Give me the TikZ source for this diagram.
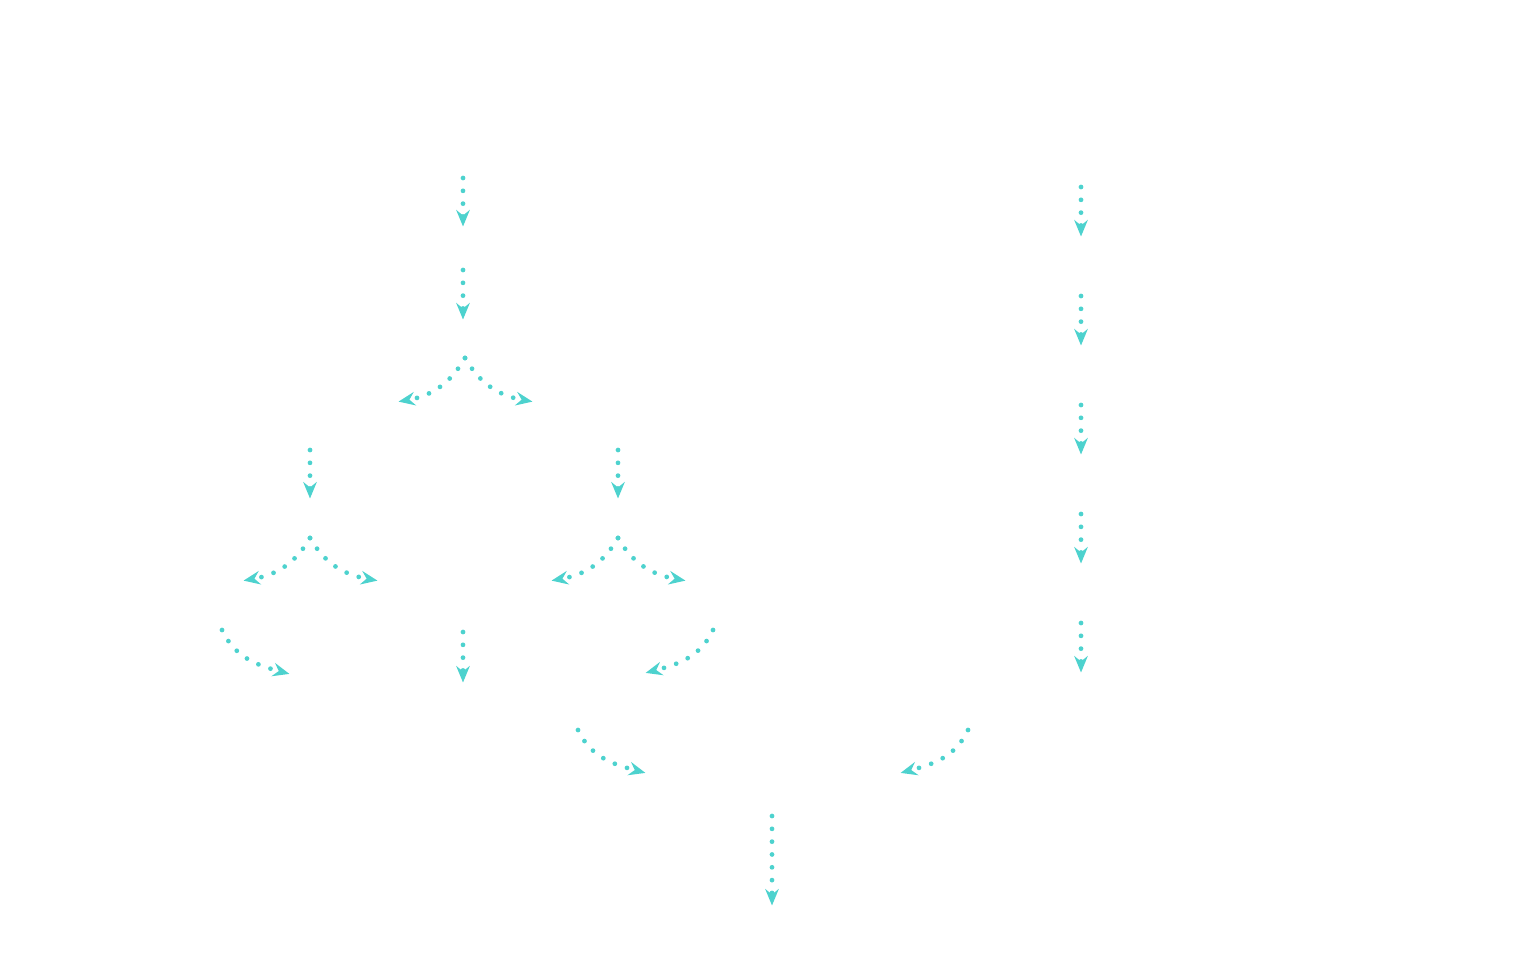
\documentclass[tikz,border=0pt]{standalone}
\usetikzlibrary{arrows.meta}
\definecolor{flowcyan}{HTML}{4DD2CE}
\begin{document}
\begin{tikzpicture}[x=0.02cm,y=0.02cm,>={Stealth[length=0.33cm,width=0.27cm,inset=0.11cm]},
	flow/.style={->,flowcyan,line width=2.7pt,line cap=round,dash pattern=on 0pt off 7.3pt,shorten >=-2pt}]
	\useasboundingbox (0,0) rectangle (1534,975);
	% left tree
	\coordinate (a1s) at (463,797); \coordinate (a1e) at (463,752);
	\coordinate (a2s) at (463,705); \coordinate (a2e) at (463,659);
	\coordinate (f1) at (465,617); \coordinate (f1l) at (402,574); \coordinate (f1r) at (529,574);
	\coordinate (b1s) at (310,525); \coordinate (b1e) at (310,480);
	\coordinate (b2s) at (618,525); \coordinate (b2e) at (618,480);
	\coordinate (f2) at (310,437); \coordinate (f2l) at (247,395); \coordinate (f2r) at (374,395);
	\coordinate (f3) at (618,437); \coordinate (f3l) at (555,395); \coordinate (f3r) at (682,395);
	\coordinate (c1s) at (222,345); \coordinate (c1e) at (286,302);
	\coordinate (c2s) at (463,343); \coordinate (c2e) at (463,296);
	\coordinate (c3s) at (713,345); \coordinate (c3e) at (649,303);
	\coordinate (d1s) at (578,245); \coordinate (d1e) at (642,203);
	\coordinate (d2s) at (968,245); \coordinate (d2e) at (904,203);
	\coordinate (e1s) at (772,159); \coordinate (e1e) at (772,73);
	\draw[flow] (a1s)--(a1e);
	\draw[flow] (a2s)--(a2e);
	\draw[flow] (f1) to[out=-120,in=10] (f1l);
	\draw[flow] (f1) to[out=-60,in=170] (f1r);
	\draw[flow] (b1s)--(b1e);
	\draw[flow] (b2s)--(b2e);
	\draw[flow] (f2) to[out=-120,in=10] (f2l);
	\draw[flow] (f2) to[out=-60,in=170] (f2r);
	\draw[flow] (f3) to[out=-120,in=10] (f3l);
	\draw[flow] (f3) to[out=-60,in=170] (f3r);
	\draw[flow] (c1s) to[out=-65,in=165] (c1e);
	\draw[flow] (c2s)--(c2e);
	\draw[flow] (c3s) to[out=-115,in=15] (c3e);
	\draw[flow] (d1s) to[out=-65,in=165] (d1e);
	\draw[flow] (d2s) to[out=-115,in=15] (d2e);
	\draw[flow] (e1s)--(e1e);
	% right column
	\foreach \y [count=\i] in {788,679,570,461,352}{
		\coordinate (r\i s) at (1081,\y);
		\coordinate (r\i e) at (1081,\y-46);
		\draw[flow] (r\i s)--(r\i e);
	}
\end{tikzpicture}
\end{document}
